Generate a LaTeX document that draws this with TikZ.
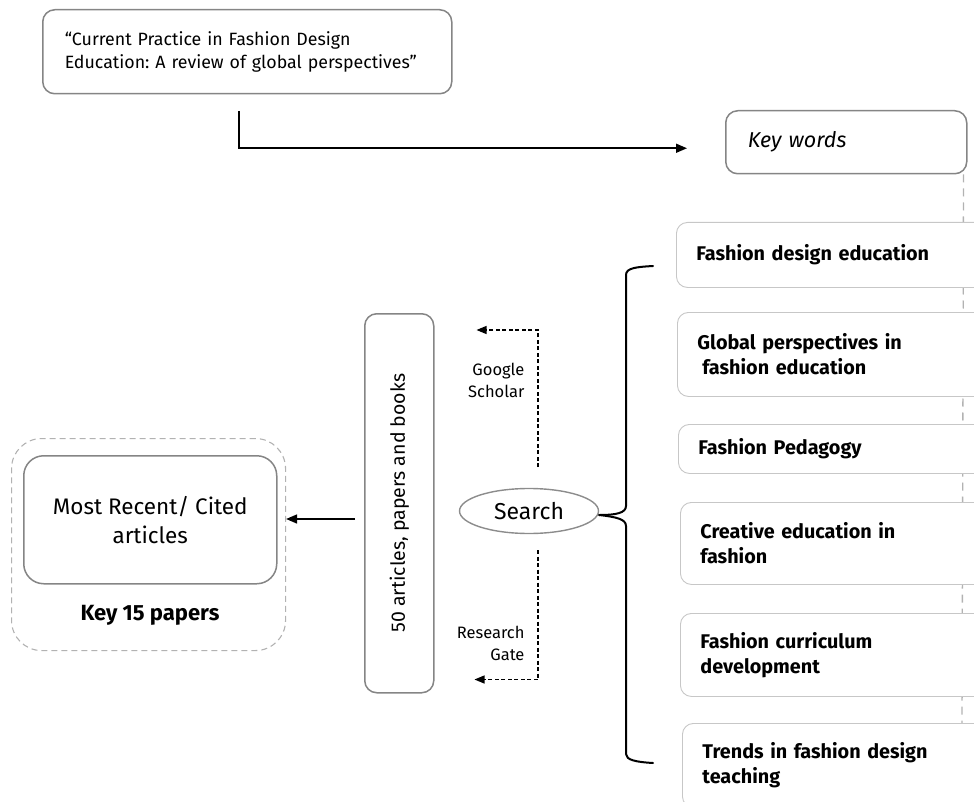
\documentclass[tikz,border=0pt]{standalone}
\usepackage{fontspec}
\setmainfont{Fira Sans}
\usetikzlibrary{arrows.meta,shapes.geometric,calc}
\frenchspacing

\begin{document}
\begin{tikzpicture}[x=1pt,y=-1pt,
  graybox/.style={draw=black!48, line width=1.5pt, rounded corners=12pt, fill=white},
  kwbox/.style={draw=black!22, line width=0.9pt, rounded corners=11pt, fill=white,
    anchor=north west, minimum width=320pt, inner xsep=20pt, text width=280pt,
    align=left, font=\fontsize{19.8}{25}\selectfont\bfseries},
  link/.style={line width=1.6pt, -{Triangle[length=11pt,width=9pt]}},
  dlink/.style={line width=1.2pt, dash pattern=on 4pt off 2.5pt, -{Triangle[length=10pt,width=8pt]}},
  brace/.style={line width=2pt, line cap=round},
  guide/.style={draw=black!30, line width=1.3pt, dash pattern=on 8pt off 6pt},
  lbl/.style={font=\fontsize{16.5}{22}\selectfont, align=right, anchor=east}
]
\useasboundingbox (0,0) rectangle (974,802);
\clip (0,0) rectangle (974,802);

% title of the review
\node[graybox, anchor=north west, minimum width=409pt, minimum height=84pt,
      inner xsep=22pt, text width=365pt, align=left,
      font=\fontsize{17.8}{23}\selectfont] (title) at (42,9)
  {“Current Practice in Fashion Design\\Education: A review of global perspectives”};

% key words header
\node[graybox, anchor=north west, minimum width=241pt, minimum height=63pt,
      inner xsep=22pt, text width=197pt, align=left,
      font=\fontsize{21.5}{24}\selectfont\itshape] (kw) at (725,110) {Key words};

% dashed guide behind the keyword boxes
\coordinate (gtop) at ($(kw.south east)+(-4,0)$);
\coordinate (gbot) at (962,730);
\draw[guide] (gtop) -- (gbot);

% keyword boxes
\node[kwbox, minimum height=65pt] (k1) at (676,222) {Fashion design education};
\node[kwbox, minimum height=84pt] (k2) at (677,312) {Global perspectives in\\\hspace{0.25em}fashion education};
\node[kwbox, minimum height=49pt] (k3) at (678,424) {Fashion Pedagogy};
\node[kwbox, minimum height=82pt] (k4) at (680,502) {Creative education in\\fashion};
\node[kwbox, minimum height=83pt] (k5) at (680,613) {Fashion curriculum\\development};
\node[kwbox, minimum height=84pt] (k6) at (682,723) {Trends in fashion design\\teaching};

% title -> key words
\coordinate (tstart) at (239,111);
\draw[link] (tstart) |- ($(kw.west)+(-38,6)$);

% search
\node[ellipse, draw=black!45, line width=1.4pt, minimum width=139pt, minimum height=45pt,
      inner sep=0pt, font=\fontsize{23}{26}\selectfont] (search) at (529,511) {Search};

% brace gathering the keywords
\coordinate (btop) at (653,266);
\coordinate (bbot) at (653,763);
\coordinate (bcusp) at ($(search.east)+(0,4)$);
\draw[brace] (btop) .. controls (636,267) and (626,268) .. (626,275)
  -- (626,506) .. controls (626,513) and (616,515) .. (bcusp);
\draw[brace] (bcusp) .. controls (616,517) and (626,519) .. (626,526)
  -- (626,754) .. controls (626,760) and (636,762) .. (bbot);

% collected literature
\node[graybox, anchor=north west, minimum width=69pt, minimum height=379pt,
      inner sep=0pt] (lit) at (364,313) {};
\node[rotate=90, font=\fontsize{19.5}{22}\selectfont] (littext) at (lit.center)
  {50 articles, papers and books};

% search sources
\coordinate (gs1) at (538,467);
\coordinate (rg1) at (538,550);
\draw[dlink] (gs1) |- ($(lit.north east)+(42,17)$);
\draw[dlink] (rg1) |- ($(lit.south east)+(40,-14)$);
\node[lbl] (gs) at (528,380) {Google\\Scholar};
\node[lbl] (rg) at (528,643) {Research\\Gate};

% selected papers
\node[draw=black!30, line width=1.1pt, dash pattern=on 6pt off 4pt, rounded corners=30pt,
      anchor=north west, minimum width=274pt, minimum height=212pt] (sel) at (11,438) {};
\node[graybox, rounded corners=20pt, anchor=north west, minimum width=253pt,
      minimum height=128pt, align=center, font=\fontsize{22.5}{29}\selectfont] (recent) at (23,455)
  {Most Recent/ Cited\\articles};
\node[font=\fontsize{22}{24}\selectfont\bfseries] (key15) at (150,615) {Key 15 papers};

\coordinate (lstart) at (355,519);
\draw[link] (lstart) -- (lstart -| sel.east);
\end{tikzpicture}
\end{document}
